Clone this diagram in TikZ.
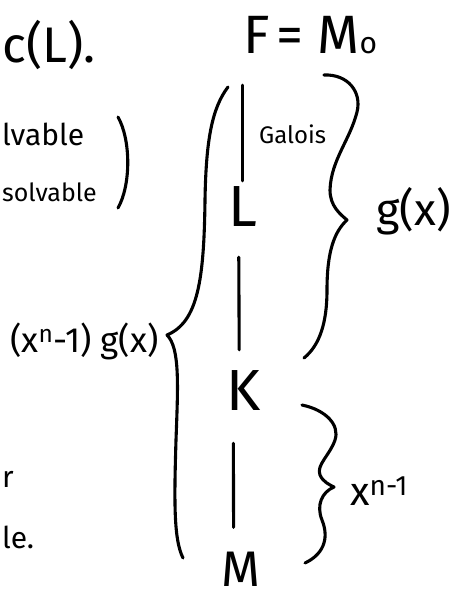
\documentclass[tikz,border=0pt]{standalone}
\usepackage{fontspec}
\setmainfont{Fira Sans}
\tikzset{
  hand/.style={line width=3.1pt, line cap=round, line join=round},
  lbl/.style={inner sep=0pt, anchor=base west},
}
\newcommand{\fs}[1]{\fontsize{#1}{#1}\selectfont}
\begin{document}
\begin{tikzpicture}[x=1pt,y=-1pt]
\useasboundingbox (0,0) rectangle (454,600);
% left fragments
\node[lbl,font=\fs{50}] (cl) at (2,62) {c(L).};
\node[lbl,font=\fs{30}] (lv) at (2,145) {lvable};
\node[lbl,font=\fs{25}] (sv) at (2,201) {solvable};
\draw[hand] (118,117) .. controls (131,140) and (131,185) .. (118,208);
\node[lbl,font=\fs{30}] (rr) at (2,487) {r};
\node[lbl,font=\fs{30}] (le) at (2,548) {le.};
% tower
\node[lbl,font=\fs{54}] (F) at (243,53) {F};
\node[lbl,font=\fs{54}] (eq) at (276,53) {= M{\fs{30}o}};
\node[lbl,font=\fs{24}] (gal) at (259,143) {Galois};
\node[lbl,font=\fs{58}] (L) at (228,226) {L};
\node[lbl,font=\fs{58}] (K) at (226,410) {K};
\node[lbl,font=\fs{50}] (M) at (221,586) {M};
\draw[hand, shorten <=33pt, shorten >=24pt] ([xshift=-10pt]K.south) -- ([xshift=-7pt]M.north);
\draw[hand, shorten <=32pt, shorten >=5pt] (F.south -| L.north) -- (L.north);
\draw[hand, shorten <=31pt, shorten >=20pt] ([xshift=-4pt]L.south) -- ([xshift=-4pt]K.north);
% labels
\node[lbl,font=\fs{45}] (g) at (376,225) {g(x)};
\node[lbl,font=\fs{35}] (lg) at (10,352) {(x\textsuperscript{n}-1) g(x)};
\node[lbl,font=\fs{40}] (xn) at (350,505) {x\textsuperscript{n-1}};
% braces
\draw[hand] (228,87) .. controls (212,108) and (206,140) .. (205,200)
  .. controls (204,280) and (198,322) .. (167,335)
  .. controls (180,348) and (178,385) .. (176,440)
  .. controls (174,505) and (174,540) .. (183,558);
\draw[hand] (324,75) .. controls (348,74) and (362,92) .. (357,112)
  .. controls (350,140) and (331,160) .. (330,190)
  .. controls (330,206) and (340,214) .. (347,220)
  .. controls (334,232) and (327,252) .. (327,290)
  .. controls (327,322) and (320,345) .. (304,358);
\draw[hand] (302,405) .. controls (326,410) and (340,425) .. (335,440)
  .. controls (330,455) and (316,465) .. (320,475)
  .. controls (323,482) and (330,485) .. (334,487)
  .. controls (322,492) and (316,505) .. (322,520)
  .. controls (330,540) and (322,555) .. (305,563);
\end{tikzpicture}
\end{document}
